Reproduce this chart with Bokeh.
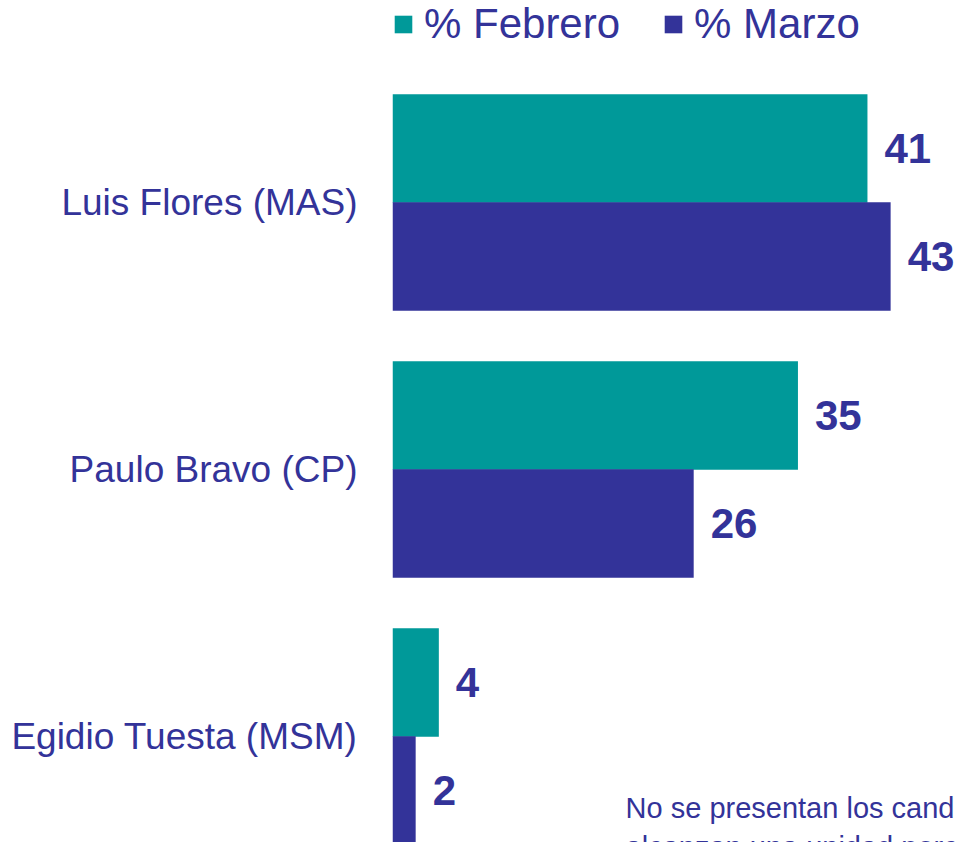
from bokeh.plotting import figure
from bokeh.models import ColumnDataSource, Range1d, Legend, LegendItem, Label
from bokeh.transform import dodge
from bokeh.core.properties import value
from bokeh.embed import file_html
from bokeh.resources import INLINE

# Data
candidates = ["Luis Flores (MAS)", "Paulo Bravo (CP)", "Egidio Tuesta (MSM)"]
febrero = [41, 35, 4]
marzo = [43, 26, 2]
series_names = ["% Febrero", "% Marzo"]
note = "No se presentan los candidatos que no\nalcanzan una unidad porcentual"

TEAL = "#009999"
NAVY = "#333399"
FONT = "Liberation Sans"

n = len(candidates)
ypos = [n - 1 - i for i in range(n)]
src = ColumnDataSource(dict(
    y=ypos,
    feb=febrero,
    mar=marzo,
    feb_lbl=[str(v) for v in febrero],
    mar_lbl=[str(v) for v in marzo],
))

p = figure(width=955, height=842, output_backend="svg", toolbar_location=None,
           x_range=Range1d(0, 48.6), y_range=Range1d(-0.397, 2.7566),
           x_axis_location=None,
           min_border_left=392, min_border_right=0, min_border_top=0, min_border_bottom=0)
p.outline_line_color = None
p.xgrid.visible = False
p.ygrid.visible = False
p.background_fill_color = "white"
p.border_fill_color = "white"

off = 0.2022
bh = 0.406
r1 = p.hbar(y=dodge("y", off), right="feb", left=0, height=bh, source=src,
            fill_color=TEAL, line_color=None)
r2 = p.hbar(y=dodge("y", -off), right="mar", left=0, height=bh, source=src,
            fill_color=NAVY, line_color=None)

p.text(x="feb", y=dodge("y", off), text="feb_lbl", source=src, x_offset=17,
       text_align="left", text_baseline="middle", text_color=NAVY,
       text_font=value(FONT), text_font_style="bold", text_font_size="42px")
p.text(x="mar", y=dodge("y", -off), text="mar_lbl", source=src, x_offset=17,
       text_align="left", text_baseline="middle", text_color=NAVY,
       text_font=value(FONT), text_font_style="bold", text_font_size="42px")

yax = p.yaxis[0]
yax.ticker = ypos
yax.major_label_overrides = {float(y): c for y, c in zip(ypos, candidates)}
yax.major_label_text_font = FONT
yax.major_label_text_font_size = "37px"
yax.major_label_text_color = NAVY
yax.major_label_standoff = 29
yax.major_tick_line_color = None
yax.minor_tick_line_color = None
yax.axis_line_color = None

legend = Legend(items=[LegendItem(label=series_names[0], renderers=[r1]),
                       LegendItem(label=series_names[1], renderers=[r2])],
                orientation="horizontal", location="top_left")
legend.label_text_font = FONT
legend.label_text_font_size = "42px"
legend.label_text_color = NAVY
legend.glyph_width = 22
legend.glyph_height = 22
legend.label_standoff = 10
legend.spacing = 42
legend.padding = 0
legend.margin = 0
legend.border_line_color = None
legend.background_fill_alpha = 0
p.add_layout(legend)

p.add_layout(Label(x=20.12, y=-0.2085, text=note, text_align="left", text_baseline="top",
                   text_font=FONT, text_font_size="29px", text_color=NAVY,
                   text_line_height=1.22))

open("out.html", "w").write(file_html(p, INLINE))
